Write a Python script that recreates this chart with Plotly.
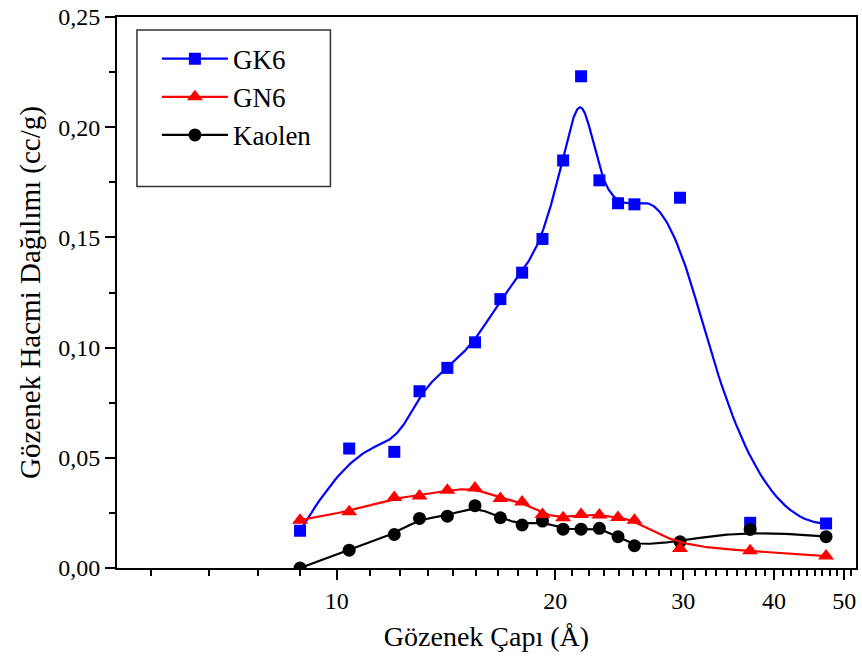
import numpy as np
import plotly.graph_objects as go

# Pore diameters (Å) and pore volume distribution (cc/g)
pore_diameter = [8.9, 10.4, 12.0, 13.0, 14.2, 15.5, 16.8, 18.0, 19.2, 20.5,
                 21.7, 23.0, 24.4, 25.7, 29.7, 37.1, 47.2]
gk6 = [0.0169, 0.0542, 0.0527, 0.0802, 0.0908, 0.1024, 0.1220, 0.1340, 0.1493,
       0.1849, 0.2231, 0.1759, 0.1655, 0.1650, 0.1680, 0.0205, 0.0202]
gn6 = [0.0217, 0.0255, 0.0320, 0.0327, 0.0353, 0.0363, 0.0315, 0.0300, 0.0243,
       0.0228, 0.0243, 0.0240, 0.0229, 0.0217, 0.0089, 0.0078, 0.0054]
kaolen = [0.0000, 0.0081, 0.0152, 0.0225, 0.0235, 0.0283, 0.0228, 0.0195, 0.0213,
          0.0176, 0.0176, 0.0180, 0.0142, 0.0101, 0.0119, 0.0175, 0.0142]

x_ticks = [10, 20, 30, 40, 50]
y_ticks = [0.0, 0.05, 0.10, 0.15, 0.20, 0.25]

FONT = "Liberation Serif"


def bspline(xs, ys, per_seg=40, k=3):
    """Clamped uniform cubic B-spline using the data points as control points
    (x handled in log10 space so the curve is smooth on the log axis)."""
    P = np.column_stack([np.log10(xs), ys]).astype(float)
    n = len(P) - 1
    kv = np.concatenate([np.zeros(k), np.arange(n - k + 2), np.full(k, n - k + 1)])
    t_end = n - k + 1
    ts = np.linspace(0, t_end, per_seg * t_end + 1)
    out = []
    for t in ts:
        s = int(np.searchsorted(kv, t, side="right") - 1)
        s = min(max(s, k), n)
        d = [P[j + s - k].copy() for j in range(k + 1)]
        for r in range(1, k + 1):
            for j in range(k, r - 1, -1):
                den = kv[j + 1 + s - r] - kv[j + s - k]
                a = 0.0 if den == 0 else (t - kv[j + s - k]) / den
                d[j] = (1 - a) * d[j - 1] + a * d[j]
        out.append(d[k])
    out = np.array(out)
    return 10 ** out[:, 0], out[:, 1]


series = [
    ("GK6", gk6, "#0000FF", "square", 12),
    ("GN6", gn6, "#FF0000", "triangle-up", 14),
    ("Kaolen", kaolen, "#000000", "circle", 13),
]

fig = go.Figure()

# legend entries (line + marker sample)
for name, vals, color, sym, size in series:
    fig.add_trace(go.Scatter(
        x=[None], y=[None], mode="lines+markers", name=name,
        line=dict(color=color, width=2.2),
        marker=dict(symbol=sym, size=size, color=color),
    ))

# data: smoothed curve plus measured points (Kaolen drawn under GN6)
for name, vals, color, sym, size in [series[0], series[2], series[1]]:
    cx, cy = bspline(pore_diameter, vals)
    fig.add_trace(go.Scatter(
        x=cx, y=cy, mode="lines", showlegend=False, hoverinfo="skip",
        line=dict(color=color, width=2.2),
    ))
    fig.add_trace(go.Scatter(
        x=pore_diameter, y=vals, mode="markers", showlegend=False, name=name,
        marker=dict(symbol=sym, size=size, color=color),
    ))

minor_x = [10 * k / 9 for k in range(5, 47) if k % 9 != 0]

fig.update_layout(
    width=862, height=666,
    margin=dict(l=117, r=4, t=15, b=98),
    paper_bgcolor="white", plot_bgcolor="white",
    separators=",.",
    font=dict(family=FONT, color="black"),
    showlegend=True,
    legend=dict(
        x=0.054, y=0.968, xanchor="left", yanchor="top",
        font=dict(family=FONT, size=27, color="black"),
        bgcolor="rgba(0,0,0,0)", borderwidth=0,
        itemwidth=66, tracegroupgap=0,
    ),
    xaxis=dict(
        type="log",
        range=[np.log10(4.98), np.log10(51.9)],
        tickmode="array", tickvals=x_ticks, ticktext=[str(v) for v in x_ticks],
        ticks="outside", ticklen=10, tickwidth=2, tickcolor="black",
        showline=True, linewidth=2, linecolor="black", mirror=True,
        showgrid=False, zeroline=False,
        tickfont=dict(family=FONT, size=24, color="black"),
        minor=dict(tickmode="array", tickvals=minor_x, ticks="outside",
                   ticklen=6, tickwidth=1.5, tickcolor="black", showgrid=False),
        title=dict(text="Gözenek Çapı (Å)",
                   font=dict(family=FONT, size=28, color="black"), standoff=14),
    ),
    yaxis=dict(
        range=[0, 0.25],
        tickmode="array", tickvals=y_ticks, tickformat=".2f",
        ticks="outside", ticklen=10, tickwidth=2, tickcolor="black",
        showline=True, linewidth=2, linecolor="black", mirror=True,
        showgrid=False, zeroline=False,
        tickfont=dict(family=FONT, size=24, color="black"),
        minor=dict(dtick=0.025, ticks="outside", ticklen=6, tickwidth=1.5,
                   tickcolor="black", showgrid=False),
        title=dict(text="Gözenek Hacmi Dağılımı (cc/g)",
                   font=dict(family=FONT, size=29, color="black"), standoff=9),
    ),
    shapes=[dict(
        type="rect", xref="paper", yref="paper",
        x0=20 / 741, x1=214 / 741, y0=(568 - 185) / 553, y1=(568 - 28) / 553,
        line=dict(color="#333333", width=1.5), fillcolor="rgba(0,0,0,0)",
    )],
)

fig.write_html("out.html")
